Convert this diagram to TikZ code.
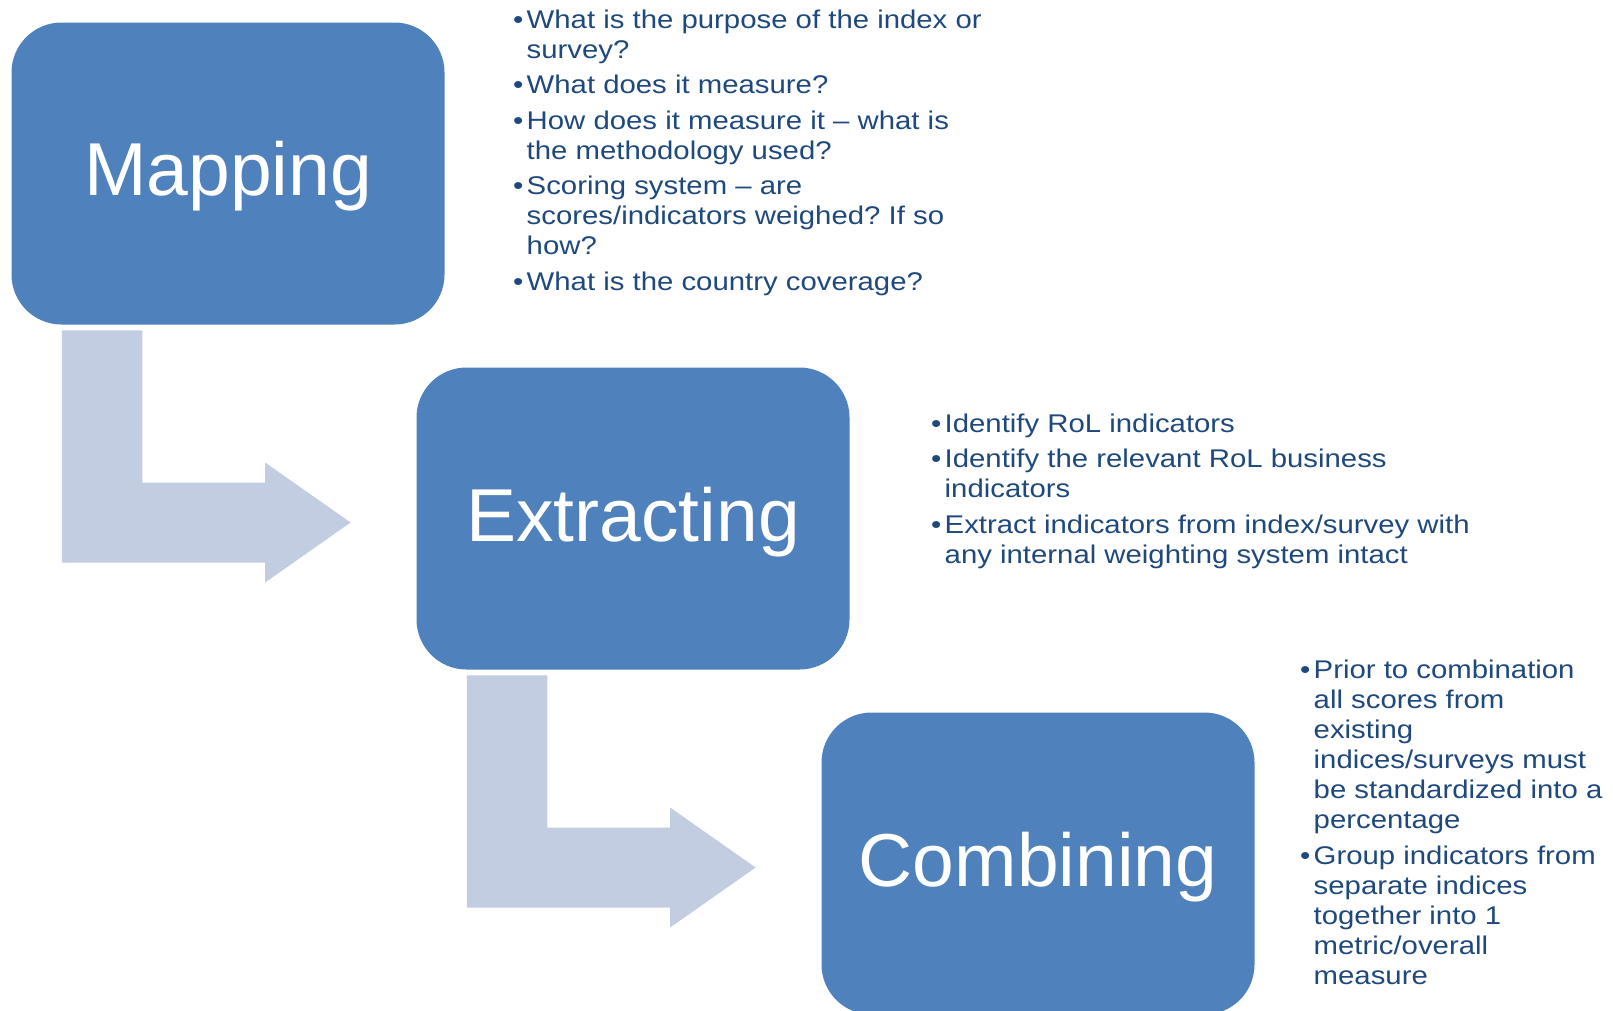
\documentclass[tikz,border=0pt]{standalone}
\usepackage{fontspec}
\setmainfont{Liberation Sans}
\newfontfamily\bodyfont[FakeStretch=1.146]{Liberation Sans}
\usetikzlibrary{calc}
\definecolor{boxblue}{HTML}{4F81BD}
\definecolor{arrowgray}{HTML}{C3CDE2}
\definecolor{txtblue}{HTML}{1F497D}
\frenchspacing
\newcommand\blt{\makebox[13.5pt][l]{•}}
\newcommand\bentarrow[2]{%
  \fill[bentfill] let \p1=(#1.south west), \p2=(#2.west) in
    (\x1+50.5pt,\y1-5.7pt) -- (\x1+131pt,\y1-5.7pt) -- (\x1+131pt,\y2+36pt)
    -- (\x2-151.2pt,\y2+36pt) -- (\x2-151.2pt,\y2+56pt) -- (\x2-65.7pt,\y2-4pt)
    -- (\x2-151.2pt,\y2-64pt) -- (\x2-151.2pt,\y2-44pt) -- (\x1+50.5pt,\y2-44pt) -- cycle;}
\begin{document}
\begin{tikzpicture}[x=1pt,y=-1pt,
  stepbox/.style={rectangle, fill=boxblue, rounded corners=50pt, minimum width=433pt, minimum height=302pt, inner sep=0pt},
  steplabel/.style={anchor=base, text=white, inner sep=0pt, font=\fontsize{75}{80}\selectfont},
  bentfill/.style={fill=arrowgray},
  bullets/.style={anchor=base west, inner sep=0pt, text=txtblue, font=\bodyfont\fontsize{25.6}{30}\selectfont\frenchspacing}]
\useasboundingbox (0,0) rectangle (1613,1010);
\clip (0,0) rectangle (1613,1010);

\node[stepbox] (map) at (228,173.5) {};
\node[stepbox] (ext) at (633,518.5) {};
\node[stepbox] (comb) at (1038,863.5) {};

\bentarrow{map}{ext}
\bentarrow{ext}{comb}

\node[steplabel] (maplabel) at ($(map.center)+(0,21.5)$) {Mapping};
\node[steplabel] (extlabel) at ($(ext.center)+(0,22.5)$) {Extracting};
\node[steplabel] (comblabel) at ($(comb.center)+(0,22.5)$) {Combining};

\node[bullets] (mapnotes) at (513,28.3) {\begin{tabular}[t]{@{}l@{}l@{}}
\blt & What is the purpose of the index or\\
 & survey?\\[5.5pt]
\blt & What does it measure?\\[5.5pt]
\blt & How does it measure it – what is\\
 & the methodology used?\\[5.5pt]
\blt & Scoring system – are\\
 & scores/indicators weighed? If so\\
 & how?\\[5.5pt]
\blt & What is the country coverage?
\end{tabular}};

\node[bullets] (extnotes) at (931,432) {\begin{tabular}[t]{@{}l@{}l@{}}
\blt & Identify RoL indicators\\[5.5pt]
\blt & Identify the relevant RoL business\\
 & indicators\\[5.5pt]
\blt & Extract indicators from index/survey with\\
 & any internal weighting system intact
\end{tabular}};

\node[bullets] (combnotes) at (1300,678.3) {\begin{tabular}[t]{@{}l@{}l@{}}
\blt & Prior to combination\\
 & all scores from\\
 & existing\\
 & indices/surveys must\\
 & be standardized into a\\
 & percentage\\[6pt]
\blt & Group indicators from\\
 & separate indices\\
 & together into 1\\
 & metric/overall\\
 & measure
\end{tabular}};
\end{tikzpicture}
\end{document}
